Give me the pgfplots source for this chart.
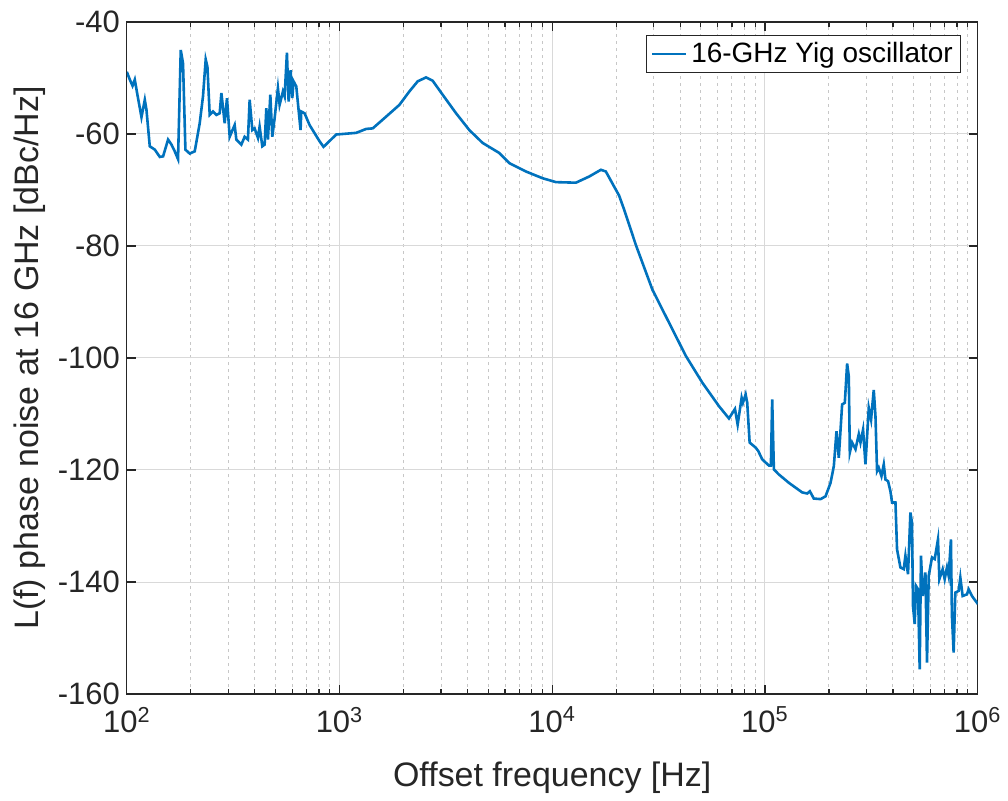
\documentclass[border=0pt]{standalone}
\usepackage{pgfplots}
\pgfplotsset{compat=1.18}
\usepackage{fontspec}
\setmainfont{Liberation Sans}
\definecolor{mblue}{rgb}{0,0.447,0.741}
\definecolor{axgray}{rgb}{0.15,0.15,0.15}
\pgfplotstableread{
f dB
100 -48.9
103.3 -50.3
106.4 -51.4
109.0 -50.3
111.8 -52.7
117.2 -57.0
121.5 -53.9
123.7 -55.7
128.2 -62.2
135.4 -62.8
142.9 -64.1
148.1 -64.0
156.3 -61.0
162.2 -61.9
168.0 -63.1
174.1 -64.5
179.3 -45.0
183.8 -47.4
188.6 -62.8
197.6 -63.5
208.6 -63.1
220.1 -58.1
228.1 -53.3
234.9 -46.7
239.3 -48.0
245.3 -56.6
254.2 -56.0
263.7 -56.6
273.3 -56.3
278.4 -52.7
288.5 -58.1
295.8 -53.6
304.5 -60.5
321.4 -58.4
327.3 -61.0
345.5 -61.9
358.1 -60.5
371.1 -61.0
378.0 -53.9
389.2 -59.3
399.0 -59.0
413.5 -60.7
421.1 -58.7
433.6 -62.2
444.5 -61.9
452.8 -55.4
460.7 -61.0
472.8 -53.0
483.1 -60.5
495.3 -57.2
513.3 -51.8
522.9 -54.8
541.9 -52.4
552.0 -53.3
565.9 -45.5
576.4 -54.2
589.0 -48.6
599.8 -53.6
608.1 -50.6
626.2 -51.5
656.0 -59.3
661.0 -56.0
685.0 -56.3
723.1 -58.4
805.6 -61.3
841.2 -62.3
965.0 -60.1
1198 -59.8
1335 -59.1
1433 -59.0
1657 -56.9
1913 -54.8
2131 -52.4
2331 -50.6
2553 -49.9
2742 -50.5
3055 -53.0
3531 -56.3
4076 -59.3
4708 -61.6
5641 -63.4
6283 -65.2
7523 -66.7
9004 -67.9
10410 -68.6
12923 -68.7
14920 -67.6
16929 -66.4
17870 -66.7
19550 -69.4
20630 -71.0
21780 -73.5
24720 -79.8
29580 -87.8
35430 -93.7
42440 -99.6
50780 -104.4
60810 -108.6
67760 -110.8
72310 -109.1
74450 -111.9
77730 -107.1
78830 -108.0
81170 -106.5
82580 -108.0
84760 -115.1
90430 -116.0
93010 -116.6
97120 -118.1
104400 -119.2
106700 -119.2
108200 -107.4
110200 -119.9
116300 -120.8
129700 -122.3
149700 -124.0
158000 -124.2
162700 -123.8
169800 -125.1
182600 -125.2
192800 -124.7
203500 -122.3
210900 -119.3
217000 -113.1
222500 -117.8
230700 -108.3
237500 -108.0
243500 -101.0
248000 -103.3
250700 -116.9
257000 -115.1
266600 -116.3
276300 -113.6
281400 -115.1
289400 -112.8
297000 -119.0
307800 -108.9
315600 -111.0
324900 -105.7
331000 -110.4
336700 -120.2
343000 -119.6
353200 -121.1
362100 -119.0
368800 -121.7
379300 -122.0
389200 -123.8
396100 -125.8
410900 -125.8
418100 -134.2
433600 -137.4
449400 -137.7
457700 -135.3
470800 -138.6
483100 -127.6
491500 -129.4
496900 -144.3
506100 -147.5
513300 -140.7
524500 -141.3
534200 -155.6
541800 -135.3
552000 -142.5
568300 -138.3
578200 -154.4
589000 -138.9
610400 -135.6
628400 -135.9
651200 -132.4
661100 -139.5
685100 -137.7
700100 -139.5
717700 -137.4
730900 -138.9
749300 -132.4
757400 -146.0
771500 -152.6
785800 -141.9
814400 -141.6
829500 -139.2
850400 -142.5
891200 -142.2
907600 -141.3
940600 -142.5
992400 -143.7
1000000 -143.5
}\datatable
\begin{document}
\begin{tikzpicture}
\begin{axis}[
  scale only axis, width=426pt, height=336.5pt,
  xmode=log, xmin=100, xmax=1000000, ymin=-160, ymax=-40,
  ytick={-160,-140,-120,-100,-80,-60,-40},
  xtick={100,1000,10000,100000,1000000},
  xticklabels={10\textsuperscript{2},10\textsuperscript{3},10\textsuperscript{4},10\textsuperscript{5},10\textsuperscript{6}},
  /pgf/number format/assume math mode=true,
  grid=major, xminorgrids=true,
  major grid style={color=black!15, line width=0.5pt},
  minor grid style={color=black!22, dash pattern=on 1.5pt off 2pt, line width=0.5pt},
  axis line style={axgray, line width=0.6pt},
  tick style={axgray, line width=0.6pt},
  tick align=inside,
  major tick length=4.5pt, minor tick length=2.5pt,
  ticklabel style={font=\fontsize{15.5}{18}\selectfont, text=axgray},
  xticklabel style={yshift=-3pt},
  xlabel={Offset frequency [Hz]},
  ylabel={L(f) phase noise at 16 GHz [dBc/Hz]},
  xlabel style={font=\fontsize{17}{20}\selectfont, text=axgray, at={(axis description cs:0.5,0)}, anchor=base, yshift=-46.5pt},
  ylabel style={font=\fontsize{17}{20}\selectfont, text=axgray, at={(axis description cs:0,0.5)}, anchor=center, yshift=48.5pt},
  legend style={at={(0.981,0.981)}, anchor=north east, draw=axgray, line width=0.6pt,
     font=\fontsize{14}{16}\selectfont, text=black, inner xsep=2pt, inner ysep=1.5pt},
  legend cell align=left,
  legend image code/.code={\draw[#1, line width=1.3pt] (0pt,0pt) -- (17pt,0pt);},
]
\addplot[mblue, line width=1.3pt] table[x=f, y=dB] {\datatable};
\addlegendentry{16-GHz Yig oscillator}
\end{axis}
\path (current axis.south west) ++(-63.5pt,-52.5pt) rectangle ([shift={(14.5pt,11pt)}]current axis.north east);
\end{tikzpicture}
\end{document}
